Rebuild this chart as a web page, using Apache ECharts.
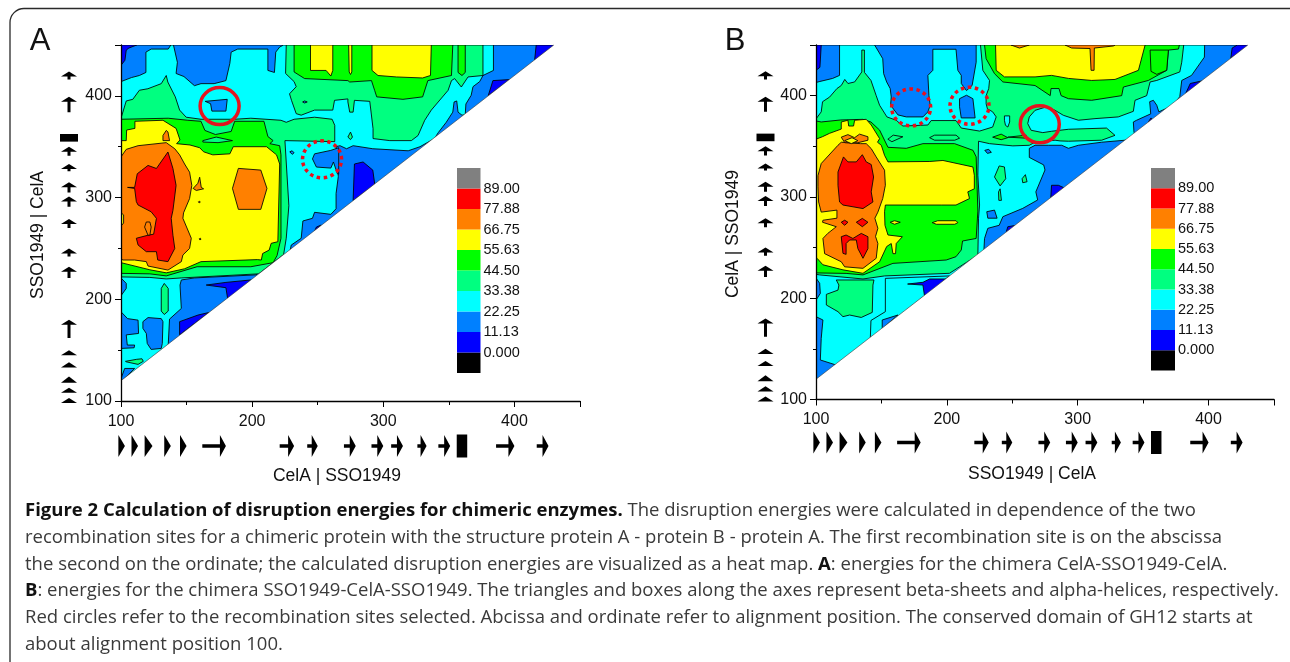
<!DOCTYPE html>
<html><head><meta charset="utf-8">
<style>html,body{margin:0;padding:0;background:#fff}#c{width:1290px;height:662px}</style>
<script src="https://cdn.jsdelivr.net/npm/echarts@6/dist/echarts.min.js"></script>
</head><body><div id="c"></div>
<script>
// colour levels of the heat map, lowest to highest
const levelColors = ['#000000','#0000ff','#0080ff','#00ffff','#00ff80','#00ff00','#ffff00','#ff8000','#ff0000','#808080'];
const legendLabels = ['0.000','11.13','22.25','33.38','44.50','55.63','66.75','77.88','89.00'];
const [BLUE,AZURE,CYAN,SPRING,GREEN,YELLOW,ORANGE,RED] = [1,2,3,4,5,6,7,8];
const xTitles = ['CelA | SSO1949','SSO1949 | CelA'];
const yTitles = ['SSO1949 | CelA','CelA | SSO1949'];
// secondary structure along alignment position: [from, to]
const strands = [[98,103],[108,113],[118,124],[133,138],[145,150],[162,180],[221,232],[242,250],[270,279],[291,300],[306,315],[326,333],[342,351],[386,400],[417,426]];
const strandsY = [[98,103],[108,113],[118,124],[133,138],[145,150],[162,180],[221,232],[242,250],[270,279],[291,301],[305,315],[326,333],[341,350],[384,399],[416,424]];
const helix = [[356,364]];
const helixY = [[355,362.5]];
// recommendation circles: [x, y, dashed]
const circlesA = [[175.2,390,0],[253.3,337.6,1]];
const circlesB = [[172.7,388.4,1],[217.3,390,1],[271,371.7,0]];
// contour regions of panel A, [level, outline in alignment positions], painted in order
const regionsA = [
[AZURE,[[100,100],[100,450],[450,450],[450,100]]],
[CYAN,[[100,414],[108,418],[114,420],[119,423],[119,443],[123,446],[136,446],[138,450],[140,450],[143,433],[142,422],[148,419],[156,410],[161,412],[171,412],[180,415],[183,432],[184,443],[189,446],[212,446],[212,425],[217,423],[218,443],[221,448],[224,450],[384,450],[384,425],[376,420],[373.5,414],[368.4,409],[367,400.5],[363,392],[362.5,381.5],[360,381],[357,384],[356,395],[354,394],[353,384],[348,374],[342,364],[339,358],[328,350],[319,346],[292,348],[277,351],[272,348],[267,351],[264,350],[265.7,320.6],[264,304],[264,289],[260,283.5],[247.6,285.5],[246,279.6],[238.7,277],[237.4,260],[229.8,253.3],[229,248],[203,224],[156,221],[146,219],[145,214],[146,191],[137,180.5],[136,155],[100,119]]],
[AZURE,[[100,221],[104,215.6],[104,210.7],[100,203.5]]],
[AZURE,[[100,187.7],[105,181],[113,179.5],[113.4,166.4],[104,165],[104.8,155],[110.4,155],[110,152.3],[100,151.7]]],
[AZURE,[[116.7,178],[120.6,182],[130.7,181],[132,178],[131.5,156.6],[130.7,151.7],[123,150.7],[120,156.6],[119.3,166.4],[116.7,171.4]]],
[AZURE,[[100,122],[102.8,132],[110.4,132],[101,120]]],
[AZURE,[[266,349],[260,346.4],[247.6,343],[246,338],[249,330],[260,329],[262,335],[265,323.4],[266,323]]],
[AZURE,[[228.7,345],[230.5,346],[232,344],[230.5,342.5]]],
[AZURE,[[164.2,394.6],[181,396.6],[180,385],[169.3,385],[168.3,392.3]]],
[BLUE,[[100,450],[112,450],[106,447],[104,445],[103,435],[100,430]]],
[BLUE,[[144.7,165],[144.7,178],[158.7,184.5],[167,187]]],
[BLUE,[[165,214],[180,216.6],[199,219],[181.5,199],[180,211.4]]],
[BLUE,[[277,297],[278,333],[284.6,335],[292,327],[293.5,313]]],
[BLUE,[[415.4,435],[416.6,450],[430.6,450]]],
[BLUE,[[380,400],[383.6,415],[396.3,416]]],
[BLUE,[[247.6,267],[249,271],[252.6,273]]],
[SPRING,[[103.4,139],[112,141],[116,141.5],[117,139],[113,136],[104,138.5]]],
[SPRING,[[130.7,210.7],[133,215.6],[136,210.7],[136,188.4],[133,185],[130.7,188.4]]],
[SPRING,[[273,359.5],[275,364.4],[276.5,359.5],[275,357]]],
[SPRING,[[100,378],[104,395],[109,396.6],[114,405.5],[120.5,407],[130.7,412],[134.5,420],[135.7,413.6],[141.4,399],[144.7,386],[149.7,379],[161,377],[186.7,377],[199,378],[222,376],[226,374],[232,377],[247.6,379],[261,377],[263,371],[263,355],[225,356],[228,292],[226,260],[224,244],[205,225],[146,221],[134.5,220],[122,221.5],[100,222]]],
[SPRING,[[226,450],[225.5,422],[232,414],[233.6,409],[228.5,402],[230,395.6],[233.6,382.5],[237.4,381],[247.6,386],[261.5,386],[262.8,395.6],[273,397],[273,394],[274.4,384],[277,384],[278,395.6],[289.7,394.6],[292.2,367.7],[292.2,358],[305,356],[321.4,356],[326.5,361],[331.6,376],[336.6,386],[349.4,405.4],[352,415],[354.4,417],[359.5,408.7],[364.6,418.6],[376,420],[376,450]]],
[AZURE,[[238.5,394],[240,395],[242,394],[240,393]]],
[GREEN,[[100,377],[136,378],[151,376],[161,375],[164,366],[172,362],[184,365],[186.7,375],[209,375],[212,360],[216,356],[213.5,353],[221,351],[222,342],[222,260],[219,243],[216,236],[199,232],[158,232],[134.5,223],[122,225],[100,225.5]]],
[SPRING,[[162.4,356],[172.6,359.5],[185,356],[174,354],[162.4,354.6]]],
[GREEN,[[232,450],[232,423.5],[240,417],[273,415],[274.4,413.6],[291,415],[293.4,405.4],[295,399],[315,396.6],[330,399],[334,415],[352,420],[353,450]]],
[GREEN,[[357,450],[357,423],[360,420],[362.5,423],[362.5,450]]],
[YELLOW,[[244.5,450],[244.5,425],[256.4,425],[260,419.5],[261.5,425],[261.5,450]]],
[YELLOW,[[273.6,450],[274,423.5],[275,421],[276,423.5],[276,450]]],
[YELLOW,[[291.4,450],[291.4,425],[296,420],[310,418.6],[330,417.6],[336,420],[336.6,450]]],
[YELLOW,[[100,356],[104,356],[104.3,366.4],[110.6,368],[110.6,375],[132,376],[142,368],[145,356.6],[142.4,353],[152.6,351.7],[160,349],[163,345],[170,342],[183,343],[185.6,350],[211,350],[218.6,342],[221,333],[219.6,256.6],[214.5,255],[213,248.4],[208,245],[207,238.6],[204,239],[161,237],[148.5,230],[134.5,226],[122,229],[100,236]]],
[ORANGE,[[189.5,328.7],[206.6,327],[211.3,309],[206.6,288.4],[189.5,288.4],[185,309]]],
[ORANGE,[[132,361],[134.5,366],[135.8,364.5],[137,356],[132,356]]],
[ORANGE,[[155,309],[158.6,314],[160,320],[161.2,310],[163,308.6],[157.4,307]]],
[ORANGE,[[159,295.8],[160,296.4],[160.4,295.4],[159.6,294.8]]],
[ORANGE,[[159.6,259.4],[160.6,260],[161,259],[160.2,258.4]]],
[ORANGE,[[100,340],[104,347.4],[113,351],[134.5,354],[141,348],[144.7,342],[148.5,333],[152.3,325],[154,312],[152.3,299],[147.7,285],[147.2,279.6],[153.6,260],[152.3,250],[147.2,243.5],[146,237],[135.8,228.7],[120.6,232.7],[119.3,237],[110.4,238.6],[101.5,238.6],[100,240]]],
[YELLOW,[[100,285],[102,283],[102,275],[100,272]]],
[RED,[[105,310],[110.4,310],[112.4,323.4],[120.6,331.6],[127,328.6],[135.8,344.8],[139.6,328.6],[142,312],[139.6,287.4],[138.3,279.6],[139.6,263],[141,250],[135.8,237],[128,238.6],[127,246.8],[119.3,246.8],[113,253.4],[111.7,260],[120.6,263],[124.9,264],[127,279.6],[123,286],[113,292.7],[111.7,296],[110.4,309]]],
[ORANGE,[[120.6,263],[118,271],[119.3,276],[122,276],[123,271],[122,263]]]
];
// contour regions of panel B
const regionsB = [
[AZURE,[[100,100],[100,450],[450,450],[450,100]]],
[CYAN,[[100,413],[103,414],[112.7,417],[118,420],[118,450],[397,450],[396.8,438],[387,420],[379.5,415],[378,399],[373,390.5],[362,384],[360.4,390.5],[357.8,395.4],[355,394],[355.8,382],[345,375.7],[342.5,374],[343,364],[344,361],[336.2,356],[318.3,354],[300.5,351],[292.9,348],[287.8,351],[277.6,351],[267.4,351],[263,348],[263,339],[274,331.6],[275,326.6],[268,305],[269.4,297],[258,288.7],[242.8,280.5],[240,272],[231.3,269],[228.8,259],[228.3,247],[100,119]]],
[CYAN,[[153,219.6],[153,186.7],[142,178],[141.5,160],[202,222]]],
[AZURE,[[144.8,450],[151,436.5],[151.7,421.7],[154,413.5],[156.7,407],[157.5,398.7],[157,390.5],[162.6,381],[169,379],[181.7,379],[185.5,384],[187.3,390.5],[186.3,400],[185.5,420],[189.3,425],[189.3,445.8],[207,445.8],[208.4,425],[211,420],[211,412],[215,405],[219.3,410],[222.4,433],[222.4,450]]],
[AZURE,[[209.7,397],[215,400.4],[219.9,397],[221.6,378],[211,378],[209.7,389]]],
[AZURE,[[100,220],[102.8,214.7],[103.3,204.8],[100,198]]],
[AZURE,[[100,181.8],[105.3,178.5],[104,160.4],[103.3,139],[115.5,134],[100,119]]],
[AZURE,[[150.6,170],[150.6,178.5],[162.6,183.4]]],
[AZURE,[[230.5,285.4],[236.4,287],[238.4,279],[231.3,279]]],
[AZURE,[[229,346],[232,347],[234,344],[231,343]]],
[BLUE,[[100,450],[104,450],[103,428],[100,425]]],
[BLUE,[[170,214],[181.7,215.7],[186.8,219],[199.5,219],[183,201.5],[181.7,213]]],
[BLUE,[[417,437],[418,447],[422,450],[431,450]]],
[BLUE,[[382.5,402],[386,412],[394.7,414.5]]],
[BLUE,[[279.4,299],[280,311.5],[285.2,311.5],[289.6,309]]],
[BLUE,[[354,374],[356,378],[358,374]]],
[BLUE,[[245.3,265],[246.6,270.6],[253,272]]],
[SPRING,[[236.4,319.7],[240,330.6],[244,329.6],[245,318],[240.7,310.9]]],
[SPRING,[[257.5,318],[260,322],[261.3,315],[258,314]]],
[SPRING,[[239.5,305],[240.7,308],[241.7,296.6],[239.7,296.6]]],
[SPRING,[[115.5,218],[117.5,213],[116.8,208],[107.9,203.8],[107.9,193.3],[116.8,186.7],[120.6,181.8],[125.7,183.4],[134.6,181],[143,186],[143.5,213],[144.3,218]]],
[SPRING,[[100,377],[104,384],[105,394],[110.4,398.6],[116,407],[119.3,410],[122,416],[124.4,412],[129.5,413.5],[135,423.4],[135,445],[137,445],[137,423],[142,415],[146,400],[148.6,390.5],[154.2,379],[161.3,375.7],[166.4,370],[185.5,371],[188,375.4],[207,375.4],[211,368],[225,365],[235,369],[237.7,379],[235,384],[231,387],[230,392],[230,400],[232,407],[232.6,415],[227.5,425],[225.7,450],[381,450],[379.5,433],[378,423.4],[360.4,415],[355.3,413.5],[352.7,400],[343.8,395.4],[342.5,384.5],[331,379],[313.2,377.3],[300.5,375.7],[289,380.6],[282.7,385.5],[276.3,389],[267.4,385.5],[263,379],[261.8,372.4],[264.4,365.8],[273.3,363.5],[280,364.8],[292.9,366.8],[322,368],[328.5,360.8],[318.3,356],[292.9,355],[286.5,355.3],[282.7,356],[267.4,354],[263,351],[250.4,350.4],[232.6,352.6],[224.2,355],[223.7,321.4],[225,292],[224.2,279],[223.7,242.6],[202,224.6],[152.4,222],[135.9,219],[102.8,223],[100,223.6]]],
[CYAN,[[244,380],[248,380],[248,374],[246.6,369],[244.8,370.7],[244,375.6]]],
[GREEN,[[228.8,450],[230,436.5],[236.4,421.7],[242.8,413.5],[267.4,410],[279,400],[279.6,407],[285.7,407],[287.3,400],[292.9,397],[310.7,395.4],[333.6,400],[334.9,408.5],[354,415],[368,425],[369.3,445],[377,446],[377.7,450]]],
[GREEN,[[355.3,445],[356,424],[360.4,421],[368,425],[369.3,445]]],
[GREEN,[[100,375],[104,374],[119,376],[135.9,376.6],[142,374],[148.6,366],[155,349],[169,348],[181.7,352.6],[205.9,352.6],[220,346],[222.4,339.6],[223.7,286],[222.4,259],[212,256.5],[211,247.6],[207,241],[199.5,237.7],[158.8,234.4],[135.9,223],[123,224.5],[100,225]]],
[SPRING,[[154.9,357],[159,361],[166.4,359.4],[158,354.5]]],
[SPRING,[[186.8,358.5],[190.6,361],[207,361],[209.7,358],[206,356],[190.6,356]]],
[GREEN,[[235,359],[241.5,362],[246.6,358.5],[241.5,356.5]]],
[GREEN,[[246.6,359],[260.6,361],[260.6,358]]],
[YELLOW,[[237.2,450],[237.7,425],[244,418.5],[267.4,418.5],[280,420],[293,417],[310.7,415],[328.5,416],[346.4,425],[351.5,450]]],
[ORANGE,[[249,450],[255.5,447],[263,450]]],
[ORANGE,[[290.3,450],[295.4,447],[309.4,446.5],[310.2,425],[312.5,425],[312.7,447],[327.2,449],[328.5,450]]],
[YELLOW,[[100,357],[105,359.5],[110.4,362.8],[119.3,367],[119.3,374],[124.4,375.7],[125,370],[128.7,370],[129.5,375.7],[138.4,376.6],[142.2,371],[148.6,357.6],[147,354],[149.9,351],[152.4,341],[155,334.6],[187,335],[197,336],[219.9,329.6],[221,321.4],[221,308],[216,305],[217.3,298.4],[207,292],[195.7,292],[153,292],[152.4,285.4],[152.7,272],[155,262.4],[166,260.7],[161.3,254],[160.8,244],[158.8,244],[157.5,254],[154,251],[148.6,236],[135.9,224.6],[120.6,228],[105.3,233],[100.8,239.4],[100,239]]],
[YELLOW,[[188.8,274.6],[193,276.5],[207,276.5],[208.4,274.6],[206,273],[192,273]]],
[YELLOW,[[156.7,275],[160,276.5],[164.4,275],[160,273]]],
[ORANGE,[[101.5,321],[104,333],[116.8,351],[119.3,354],[134,352.6],[138.4,352.6],[142.2,347.7],[146,339.5],[152.4,326.4],[153,311.5],[151,298.4],[147.3,285],[145,279],[147.3,269],[145.5,261],[147.3,254],[146,239.4],[135.9,229.5],[121.9,231],[119.3,236],[106.6,244],[105.3,259],[109,264],[115.5,270.6],[105,275],[105.3,277],[116,279],[116,287],[104,285],[102,295],[101.5,310]]],
[ORANGE,[[119.3,359],[124.4,361.5],[129.5,358.5],[133.3,362],[139.7,359.4],[139.7,356],[132,353.5],[122,353.5]]],
[YELLOW,[[121.9,355.6],[127.5,358.5],[132,355.6],[127,352.6]]],
[RED,[[116.8,324.6],[121,339.5],[124.4,334.6],[130.8,334.6],[135.4,341.7],[138.4,334.6],[142.2,332],[144,319.7],[142.2,305],[143.5,295],[135.9,288.5],[120.6,292],[118,295],[116.8,311.5]]],
[RED,[[130.8,275],[135.4,278.8],[139.7,275],[135.4,270.6]]],
[RED,[[119.3,275],[121.9,277],[124.4,275],[121.9,272]]],
[RED,[[119.3,260.7],[123,262.4],[128.2,259],[134.6,264],[139.7,260.7],[139.7,249],[135.9,239.4],[132,249],[130.8,257.5],[125.7,257.5],[123,254],[123,243.3],[120.6,244.3]]]
];
// blank half of the map, below the diagonal
const diagonal = [[100,120],[430,450]];
const captionLines = [
 [['b','Figure 2 Calculation of disruption energies for chimeric enzymes.'],['n',' The disruption energies were calculated in dependence of the two']],
 [['n','recombination sites for a chimeric protein with the structure protein A - protein B - protein A. The first recombination site is on the abscissa']],
 [['n','the second on the ordinate; the calculated disruption energies are visualized as a heat map. '],['b','A'],['n',': energies for the chimera CelA-SSO1949-CelA.']],
 [['b','B'],['n',': energies for the chimera SSO1949-CelA-SSO1949. The triangles and boxes along the axes represent beta-sheets and alpha-helices, respectively.']],
 [['n','Red circles refer to the recombination sites selected. Abcissa and ordinate refer to alignment position. The conserved domain of GH12 starts at']],
 [['n','about alignment position 100.']]
];

const font = '"Liberation Sans", Arial, sans-serif';
const panels = [
 {left:121,width:459,top:45,height:356,legLeft:457,legWidth:23.5,legHeight:205,regions:regionsA,circles:circlesA,armY:45,armX:52},
 {left:816,width:458,top:45,height:354.5,legLeft:1151,legWidth:24,legHeight:202.5,regions:regionsB,circles:circlesB,armY:43,armX:50.5}
];
const grids=[],xAxes=[],yAxes=[],series=[];
panels.forEach((p,pi)=>{
  const g=pi*2;
  grids.push({left:p.left,top:p.top,width:p.width,height:p.height});
  grids.push({left:p.legLeft,top:168,width:p.legWidth,height:p.legHeight});
  const axLine={lineStyle:{color:'#000',width:1.3}};
  xAxes.push({gridIndex:g,type:'value',min:100,max:450,interval:100,z:6,splitLine:{show:false},axisLine:Object.assign({onZero:false},axLine),
    axisTick:{length:6,lineStyle:{color:'#000',width:1}},minorTick:{show:true,splitNumber:2,length:4,lineStyle:{color:'#000'}},
    axisLabel:{showMaxLabel:false,color:'#111',fontFamily:font,fontSize:16,margin:12.5,hideOverlap:false}});
  yAxes.push({gridIndex:g,type:'value',min:100,max:450,interval:100,z:6,splitLine:{show:false},axisLine:Object.assign({onZero:false},axLine),
    axisTick:{length:6,lineStyle:{color:'#000',width:1}},minorTick:{show:true,splitNumber:2,length:3,lineStyle:{color:'#000'}},
    axisLabel:{showMaxLabel:false,color:'#111',fontFamily:font,fontSize:16,margin:9}});
  xAxes.push({gridIndex:g+1,type:'value',min:0,max:1,show:false});
  yAxes.push({gridIndex:g+1,type:'value',min:0,max:10,interval:1,position:'right',z:6,splitLine:{show:false},axisLine:{show:false},axisTick:{show:false},
    axisLabel:{color:'#111',fontFamily:font,fontSize:14.5,margin:3,showMinLabel:false,showMaxLabel:false,formatter:v=>legendLabels[v-1]||''}});
  // contour bands
  series.push({type:'custom',coordinateSystem:'cartesian2d',xAxisIndex:g,yAxisIndex:g,clip:true,silent:true,animation:false,progressive:0,z:2,
    data:p.regions.map((r,i)=>[r[1][0][0],r[1][0][1],i]),
    renderItem:(params,api)=>{
      const r=p.regions[api.value(2)];
      return {type:'polygon',shape:{points:r[1].map(pt=>api.coord(pt))},style:{fill:levelColors[r[0]],stroke:'rgba(0,0,0,0.85)',lineWidth:1}};
    }});
  // blank lower triangle and diagonal edge
  series.push({type:'custom',coordinateSystem:'cartesian2d',xAxisIndex:g,yAxisIndex:g,clip:false,silent:true,animation:false,z:3,
    data:[diagonal[0]],
    renderItem:(params,api)=>{
      const a=api.coord(diagonal[0]),b=api.coord(diagonal[1]),c=api.coord([450,450]),d=api.coord([450,100]),e=api.coord([100,100]);
      return {type:'group',children:[
        {type:'polygon',shape:{points:[a,b,[b[0]+2,b[1]-2],c,[c[0],c[1]-3],[c[0]+3,c[1]-3],[d[0]+3,d[1]],e]},style:{fill:'#fff'}},
        {type:'line',shape:{x1:a[0],y1:a[1],x2:b[0],y2:b[1]},style:{stroke:'rgba(60,60,60,0.6)',lineWidth:1}}
      ]};
    }});
  // red recombination circles
  series.push({type:'custom',coordinateSystem:'cartesian2d',xAxisIndex:g,yAxisIndex:g,clip:false,silent:true,animation:false,z:5,
    data:p.circles,
    renderItem:(params,api)=>{
      const c=api.coord([api.value(0),api.value(1)]),dash=api.value(2);
      return {type:'ellipse',shape:{cx:c[0],cy:c[1],rx:19.5,ry:18.5},style:{fill:null,stroke:dash?'#e8101c':'#e4141e',lineWidth:dash?3.5:3.5,lineDash:dash?[3.5,3.5]:null}};
    }});
  // strands along the abscissa
  series.push({type:'custom',coordinateSystem:'cartesian2d',xAxisIndex:g,yAxisIndex:g,clip:false,silent:true,animation:false,z:5,
    data:strands,
    renderItem:(params,api)=>{
      const a=api.coord([api.value(0),100]),b=api.coord([api.value(1),100]),y=a[1]+p.armY,h=11,hl=6,t=1.7;
      if(b[0]-a[0]<9) return {type:'polygon',shape:{points:[[a[0],y-h],[b[0],y],[a[0],y+h]]},style:{fill:'#000'}};
      return {type:'polygon',shape:{points:[[a[0],y-t],[b[0]-hl,y-t],[b[0]-hl,y-h],[b[0],y],[b[0]-hl,y+h],[b[0]-hl,y+t],[a[0],y+t]]},style:{fill:'#000'}};
    }});
  series.push({type:'custom',coordinateSystem:'cartesian2d',xAxisIndex:g,yAxisIndex:g,clip:false,silent:true,animation:false,z:5,
    data:helix,
    renderItem:(params,api)=>{
      const a=api.coord([api.value(0),100]),b=api.coord([api.value(1),100]),y=a[1]+p.armY;
      return {type:'rect',shape:{x:a[0],y:y-11.5,width:b[0]-a[0],height:23},style:{fill:'#000'}};
    }});
  // strands along the ordinate
  series.push({type:'custom',coordinateSystem:'cartesian2d',xAxisIndex:g,yAxisIndex:g,clip:false,silent:true,animation:false,z:5,
    data:strandsY,
    renderItem:(params,api)=>{
      const a=api.coord([100,api.value(0)]),b=api.coord([100,api.value(1)]),x=a[0]-p.armX,w=8,hl=5,t=1.5;
      if(a[1]-b[1]<7) return {type:'polygon',shape:{points:[[x-w,a[1]],[x,b[1]],[x+w,a[1]]]},style:{fill:'#000'}};
      return {type:'polygon',shape:{points:[[x-t,a[1]],[x-t,b[1]+hl],[x-w,b[1]+hl],[x,b[1]],[x+w,b[1]+hl],[x+t,b[1]+hl],[x+t,a[1]]]},style:{fill:'#000'}};
    }});
  series.push({type:'custom',coordinateSystem:'cartesian2d',xAxisIndex:g,yAxisIndex:g,clip:false,silent:true,animation:false,z:5,
    data:helixY,
    renderItem:(params,api)=>{
      const a=api.coord([100,api.value(0)]),b=api.coord([100,api.value(1)]),x=a[0]-p.armX;
      return {type:'rect',shape:{x:x-9,y:b[1],width:18,height:a[1]-b[1]},style:{fill:'#000'}};
    }});
  // colour key
  series.push({type:'custom',coordinateSystem:'cartesian2d',xAxisIndex:g+1,yAxisIndex:g+1,clip:false,silent:true,animation:false,z:5,
    data:levelColors.map((c,i)=>[0,i]),
    renderItem:(params,api)=>{
      const i=api.value(1),a=api.coord([0,i+1]),b=api.coord([1,i]);
      return {type:'rect',shape:{x:a[0],y:a[1],width:b[0]-a[0],height:b[1]-a[1]},style:{fill:levelColors[i]}};
    }});
});
const textEl=(text,x,y,size,rot)=>({type:'text',x,y,rotation:rot||0,z:10,style:{text,fontFamily:font,fontSize:size,fill:'#111',align:'center',verticalAlign:'middle'}});
const graphic=[
 {type:'rect',shape:{x:10,y:8.5,width:1310,height:720,r:14},style:{fill:null,stroke:'#2a2a2a',lineWidth:1.3},z:1},
 textEl('A',40,41,31),textEl('B',735,41,31),
 textEl(xTitles[0],337,476,17.5),textEl(xTitles[1],1032,474,17.5),
 textEl(yTitles[0],38,235,17.5,Math.PI/2),textEl(yTitles[1],733,234,17.5,Math.PI/2)
];
captionLines.forEach((line,i)=>{
  graphic.push({type:'text',x:25,y:511+i*26.7,z:10,style:{
    text:line.map(s=>'{'+s[0]+'|'+s[1]+'}').join(''),
    verticalAlign:'middle',align:'left',
    rich:{b:{fontFamily:'"Open Sans"',fontWeight:'bold',fontSize:18.5,fill:'#111'},n:{fontFamily:'"Open Sans"',fontSize:18.5,fill:'#3a3a3a'}}
  }});
});
const chart=echarts.init(document.getElementById('c'),null,{renderer:'canvas'});
chart.setOption({animation:false,backgroundColor:'#fff',grid:grids,xAxis:xAxes,yAxis:yAxes,series,graphic});
</script></body></html>
